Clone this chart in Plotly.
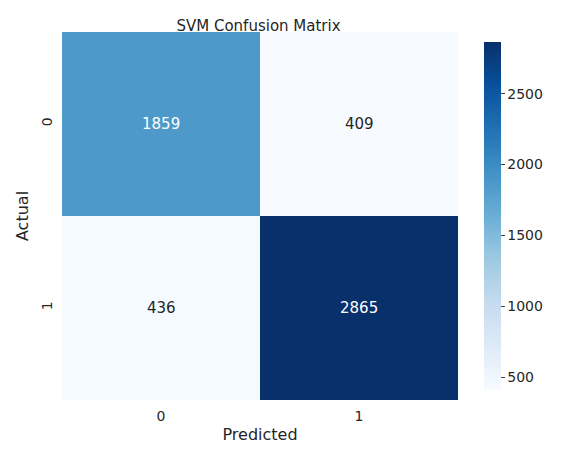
import plotly.graph_objects as go

labels = ["0", "1"]
counts = [[1859, 409],
          [436, 2865]]

blues = ["#f7fbff", "#deebf7", "#c6dbef", "#9ecae1", "#6baed6",
         "#4292c6", "#2171b5", "#08519c", "#08306b"]
scale = [[i / (len(blues) - 1), c] for i, c in enumerate(blues)]

zmin = min(min(r) for r in counts)
zmax = max(max(r) for r in counts)

fig = go.Figure(go.Heatmap(
    z=counts, x=labels, y=labels, colorscale=scale, zmin=zmin, zmax=zmax,
    colorbar=dict(thickness=17, len=1, x=1.04, xanchor="left", y=0.5,
                  outlinewidth=0, ticks="outside", ticklen=4,
                  tickvals=[500, 1000, 1500, 2000, 2500],
                  tickfont=dict(size=14, color="#262626")),
    showscale=True, hoverongaps=False,
))

# cell annotations, white on dark cells
for i, row in enumerate(counts):
    for j, v in enumerate(row):
        frac = (v - zmin) / (zmax - zmin)
        fig.add_annotation(x=labels[j], y=labels[i], text=str(v), showarrow=False,
                           font=dict(size=15, color="white" if frac > 0.5 else "#262626"))

# page body adds ~8px offset, so margins are shifted to compensate
fig.update_layout(
    width=563, height=463,
    margin=dict(l=54, r=113, t=24, b=71, autoexpand=False),
    paper_bgcolor="white", plot_bgcolor="white",
    font=dict(family="DejaVu Sans", color="#262626"),
    title=dict(text="SVM Confusion Matrix", x=0.445, xanchor="center", y=0.962,
               yanchor="middle", font=dict(size=15)),
    xaxis=dict(title=dict(text="Predicted", font=dict(size=16), standoff=6),
               tickfont=dict(size=14), showgrid=False, zeroline=False, ticks="outside",
               ticklen=3, tickcolor="white"),
    yaxis=dict(title=dict(text="Actual", font=dict(size=16), standoff=6),
               tickfont=dict(size=14), tickangle=-90, autorange="reversed",
               showgrid=False, zeroline=False, ticks="outside", ticklen=3,
               tickcolor="white"),
)

fig.write_html("out.html")
